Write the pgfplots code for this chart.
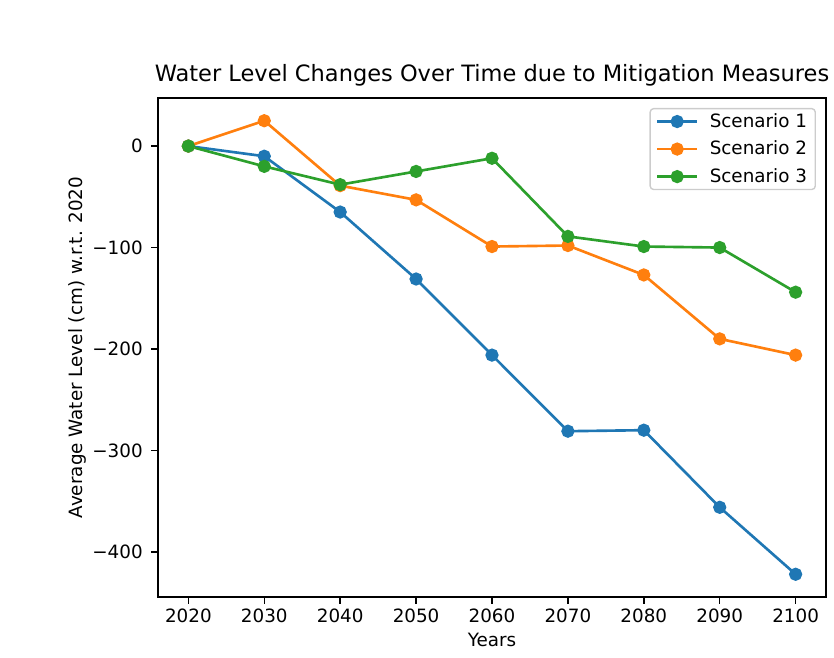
\documentclass[border=0pt]{standalone}
\usepackage{fontspec}
\setmainfont{DejaVu Sans}
\usepackage{pgfplots}
\pgfplotsset{compat=1.18}

\definecolor{tabblue}{HTML}{1F77B4}
\definecolor{taborange}{HTML}{FF7F0E}
\definecolor{tabgreen}{HTML}{2CA02C}
\definecolor{legframe}{HTML}{CCCCCC}

\begin{document}
\begin{tikzpicture}
% page frame
\path[use as bounding box] (-113.76pt,-43.92pt) rectangle (486.72pt,429.84pt);
\begin{axis}[
  at={(0pt,0pt)}, anchor=south west,
  scale only axis,
  width=480.96pt, height=359.28pt,
  xmin=2016, xmax=2104,
  ymin=-444.4, ymax=47.4,
  axis line style={black, line width=1.1pt},
  tick align=outside,
  major tick length=5pt,
  tick style={black, line width=1.1pt},
  xtick pos=left, ytick pos=left,
  xtick={2020,2030,2040,2050,2060,2070,2080,2090,2100},
  xticklabels={2020,2030,2040,2050,2060,2070,2080,2090,2100},
  ytick={-400,-300,-200,-100,0},
  yticklabels={−400,−300,−200,−100,0},
  tick label style={font=\fontsize{13.2}{15}\selectfont, inner sep=0pt},
  xticklabel style={yshift=-3.6pt},
  yticklabel style={xshift=-5.8pt},
  title={Water Level Changes Over Time due to Mitigation Measures},
  title style={at={(axis description cs:0.5,1.0161)}, anchor=base, inner sep=0pt,
    font=\fontsize{16.2}{19}\selectfont},
  xlabel={Years},
  xlabel style={at={(axis description cs:0.5,-0.0724)}, anchor=north, inner sep=0pt,
    font=\fontsize{13.2}{15}\selectfont},
  ylabel={Average Water Level (cm) w.r.t. 2020},
  ylabel style={at={(axis description cs:-0.1123,0.5)}, anchor=base, rotate=0, inner sep=0pt,
    font=\fontsize{13.2}{15}\selectfont},
  legend style={at={(axis description cs:0.985,0.98)}, anchor=north east,
    draw=legframe, line width=1pt, rounded corners=2.5pt, fill=white, fill opacity=0.8,
    text opacity=1, font=\fontsize{13.2}{15}\selectfont,
    inner xsep=4pt, inner ysep=1.5pt, row sep=4.3pt},
  legend cell align=left,
  legend image code/.code={
    \draw[mark repeat=2, mark phase=2, fill opacity=1, draw opacity=1, #1]
      plot coordinates {(0pt,0pt) (14.5pt,0pt) (29pt,0pt)};
    \path (35pt,0pt);},
  every axis plot/.append style={line width=1.9pt, mark=*, mark size=3.8pt},
]
\addplot[tabblue, mark options={fill=tabblue, draw=tabblue}] coordinates {
  (2020,0) (2030,-10) (2040,-65) (2050,-131) (2060,-206)
  (2070,-281) (2080,-280) (2090,-356) (2100,-422)};
\addlegendentry{Scenario 1}
\addplot[taborange, mark options={fill=taborange, draw=taborange}] coordinates {
  (2020,0) (2030,25) (2040,-39) (2050,-53) (2060,-99)
  (2070,-98) (2080,-127) (2090,-190) (2100,-206)};
\addlegendentry{Scenario 2}
\addplot[tabgreen, mark options={fill=tabgreen, draw=tabgreen}] coordinates {
  (2020,0) (2030,-20) (2040,-38) (2050,-25) (2060,-12)
  (2070,-89) (2080,-99) (2090,-100) (2100,-144)};
\addlegendentry{Scenario 3}
\end{axis}
\end{tikzpicture}
\end{document}
